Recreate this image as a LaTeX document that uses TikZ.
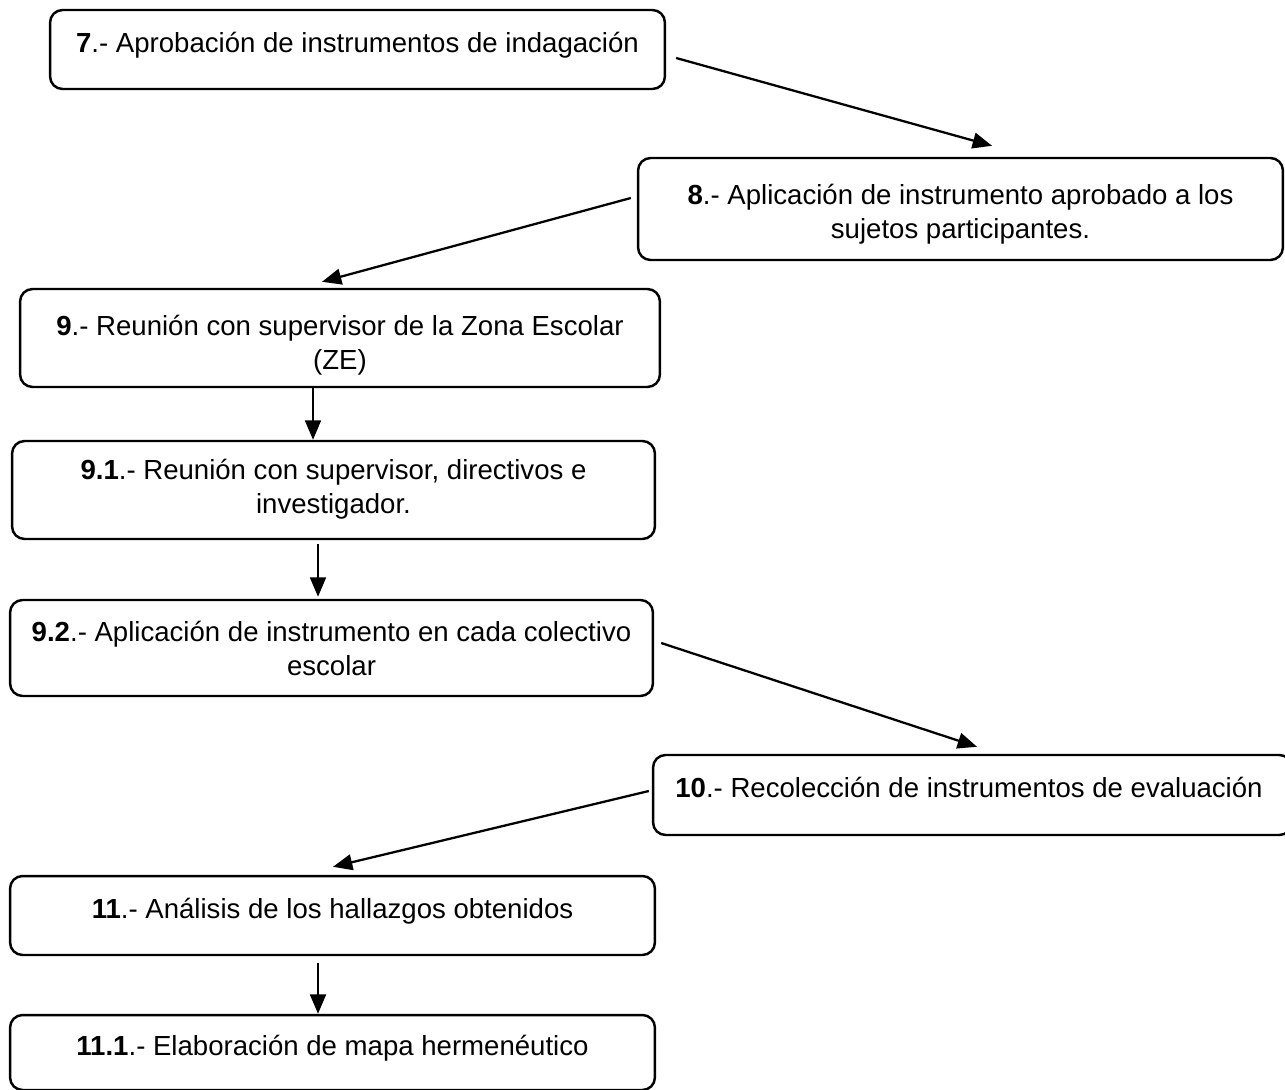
\documentclass[tikz,border=0pt]{standalone}
\usepackage{fontspec}
\setmainfont{Liberation Sans}
\usetikzlibrary{arrows.meta}

\begin{document}
\begin{tikzpicture}[x=0.02cm,y=-0.02cm,
    stepbox/.style={draw,line width=1.4pt,rounded corners=0.25cm,fill=white,inner sep=0pt},
    steptext/.style={anchor=base,align=center,inner sep=0pt,font=\fontsize{15.7}{19.3}\selectfont},
    flow/.style={-{Triangle[length=11pt,width=9pt]},line width=1.3pt}]
  \useasboundingbox (0,0) rectangle (1285,1089);
  % boxes
  \node[stepbox,minimum width=12.3cm,minimum height=1.58cm] (s7) at (357.5,49.5) {};
  \node[stepbox,minimum width=12.9cm,minimum height=2.04cm] (s8) at (960.5,209) {};
  \node[stepbox,minimum width=12.8cm,minimum height=1.96cm] (s9) at (340,338) {};
  \node[stepbox,minimum width=12.86cm,minimum height=1.96cm] (s91) at (333.5,490) {};
  \node[stepbox,minimum width=12.86cm,minimum height=1.92cm] (s92) at (331.5,648) {};
  \node[stepbox,minimum width=12.78cm,minimum height=1.6cm] (s10) at (972.5,795) {};
  \node[stepbox,minimum width=12.9cm,minimum height=1.58cm] (s11) at (332.5,915.5) {};
  \node[stepbox,minimum width=12.9cm,minimum height=1.5cm] (s111) at (332.5,1052.5) {};
  % texts (base = last line)
  \node[steptext] (t7) at ([shift={(0,44)}]s7.north) {\textbf{7}.- Aprobación de instrumentos de indagación};
  \node[steptext] (t8) at ([shift={(0,82)}]s8.north) {\textbf{8}.- Aplicación de instrumento aprobado a los\\sujetos participantes.};
  \node[steptext] (t9) at ([shift={(0,82)}]s9.north) {\textbf{9}.- Reunión con supervisor de la Zona Escolar\\(ZE)};
  \node[steptext] (t91) at ([shift={(0,74)}]s91.north) {\textbf{9.1}.- Reunión con supervisor, directivos e\\investigador.};
  \node[steptext] (t92) at ([shift={(0,77)}]s92.north) {\textbf{9.2}.- Aplicación de instrumento en cada colectivo\\escolar};
  \node[steptext] (t10) at ([shift={(-3.5,44)}]s10.north) {\textbf{10}.- Recolección de instrumentos de evaluación};
  \node[steptext] (t11) at ([shift={(0,44)}]s11.north) {\textbf{11}.- Análisis de los hallazgos obtenidos};
  \node[steptext] (t111) at ([shift={(0,42)}]s111.north) {\textbf{11.1}.- Elaboración de mapa hermenéutico};
  % connectors
  \begin{scope}[flow]
    \draw ([shift={(10,8.5)}]s7.east) to ([shift={(31.5,-11)}]s8.north);
    \draw ([shift={(-6,-11)}]s8.west) to ([shift={(-18,-6)}]s9.north);
    \draw ([shift={(-27,0)}]s9.south) to ([shift={(-20.5,0)}]s91.north);
    \draw ([shift={(-15.5,4)}]s91.south) to ([shift={(-13.5,-2)}]s92.north);
    \draw ([shift={(7,-5)}]s92.east) to ([shift={(4.5,-7)}]s10.north);
    \draw ([shift={(-3,-4)}]s10.west) to ([shift={(0.5,-8)}]s11.north);
    \draw ([shift={(-14.5,7)}]s11.south) to ([shift={(-14.5,0)}]s111.north);
  \end{scope}
\end{tikzpicture}
\end{document}
